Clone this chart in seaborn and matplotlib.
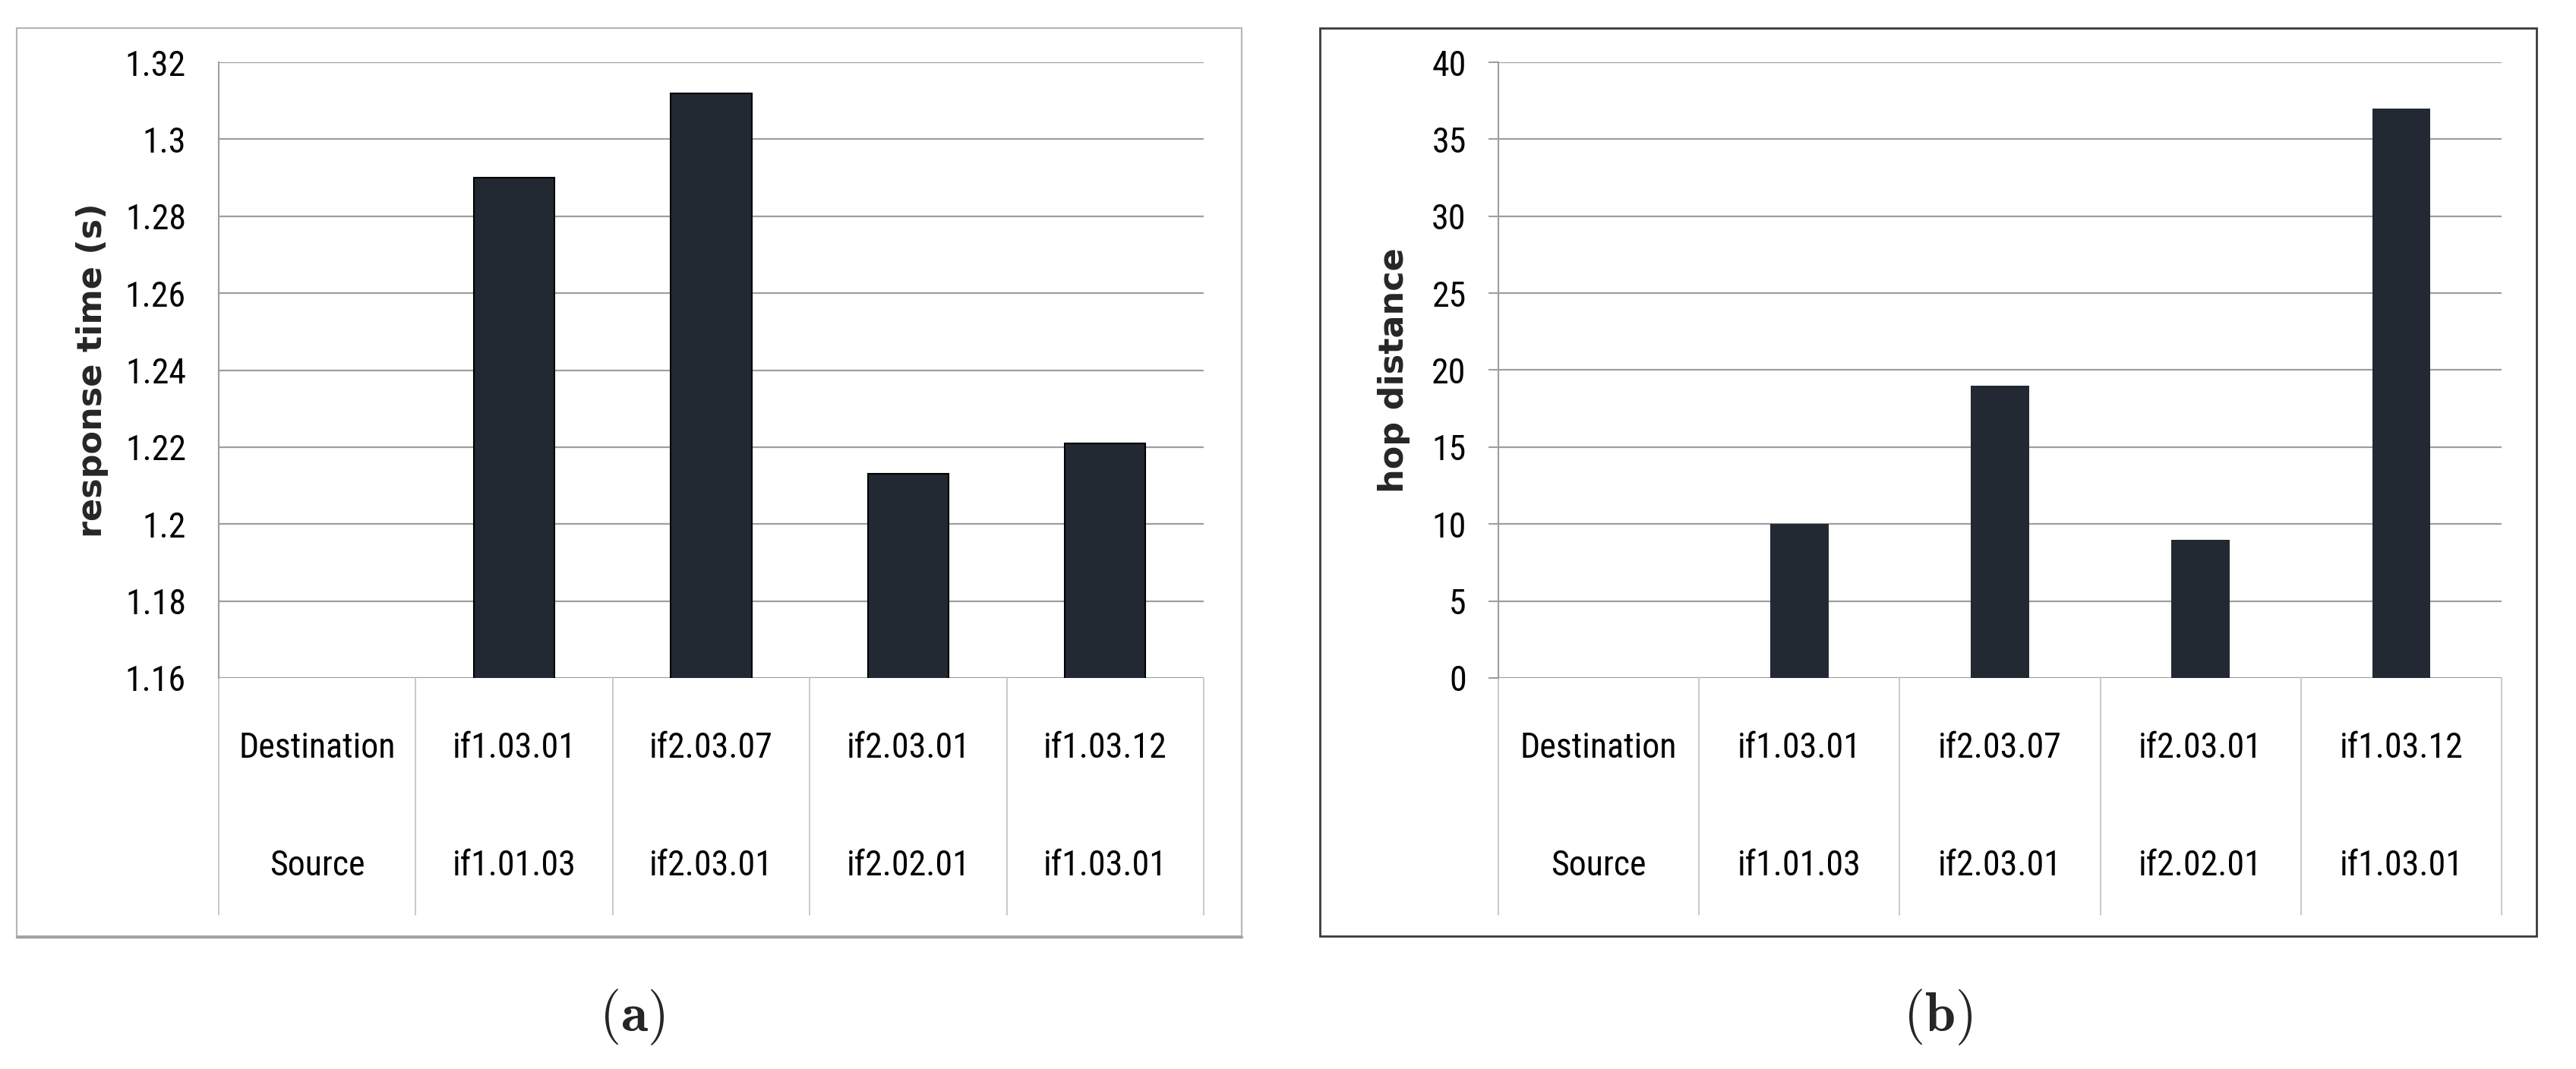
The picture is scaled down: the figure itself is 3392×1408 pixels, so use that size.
import numpy as np
import pandas as pd
import matplotlib
matplotlib.use("Agg")
import matplotlib.pyplot as plt
import matplotlib.font_manager as fm
import matplotlib.transforms as mtransforms
from matplotlib.patches import Rectangle
import seaborn as sns

# data
destination = ['Destination', 'if1.03.01', 'if2.03.07', 'if2.03.01', 'if1.03.12']
source = ['Source', 'if1.01.03', 'if2.03.01', 'if2.02.01', 'if1.03.01']
response_time = [np.nan, 1.29, 1.312, 1.213, 1.221]
hop_distance = [np.nan, 10, 19, 9, 37]

sns.set_theme(style="white")

# narrow font like the Excel original
installed = {f.name for f in fm.fontManager.ttflist}
narrow = 'DejaVu Sans'
for nama in ['Liberation Sans Narrow', 'Roboto Condensed', 'Open Sans Condensed', 'Liberation Sans']:
    if nama in installed:
        narrow = nama
        break
plt.rcParams['font.family'] = [narrow, 'DejaVu Sans']
plt.rcParams['mathtext.fontset'] = 'cm'

W, H = 3392, 1408
fig = plt.figure(figsize=(W / 100, H / 100), dpi=100)

bar_color = '#232933'
grid_color = '#9e9e9e'
table_color = '#c0c0c0'
tick_size = 33


def fx(px):
    return px / W


def fy(py):
    return 1 - py / H


def draw_panel(left, right, values, ylim, yticks, ylabel, bar_width, edge, ticks_out, label_x, tick_pad):
    ax = fig.add_axes([fx(left), fy(893), fx(right) - fx(left), fy(82) - fy(893)])
    df = pd.DataFrame({'key': destination, 'value': values})
    if edge:
        sns.barplot(data=df, x='key', y='value', order=destination, color=bar_color,
                    saturation=1, width=bar_width, edgecolor='black', linewidth=1.5, ax=ax)
    else:
        sns.barplot(data=df, x='key', y='value', order=destination, color=bar_color,
                    saturation=1, width=bar_width, linewidth=0, ax=ax)
    ax.set_ylim(ylim)
    ax.set_xlim(-0.5, len(destination) - 0.5)
    ax.set_yticks(yticks)
    ax.set_yticklabels([f"{t:g}" for t in yticks], fontsize=tick_size, color='black')
    ax.set_xticks([])
    ax.set_xlabel('')
    ax.yaxis.grid(True, color=grid_color, linewidth=1.6)
    ax.set_axisbelow(True)
    for s in ['top', 'right', 'bottom']:
        ax.spines[s].set_visible(False)
    ax.spines['left'].set_color(grid_color)
    ax.spines['left'].set_linewidth(1.5)
    if ticks_out:
        ax.tick_params(axis='y', length=9.5, width=1.5, color=grid_color, pad=tick_pad, left=True)
    else:
        ax.tick_params(axis='y', length=0, pad=tick_pad)

    ax.set_ylabel(ylabel, fontsize=32, fontweight='bold', family='DejaVu Sans')
    ax.yaxis.set_label_coords(label_x, 0.5)
    ax.yaxis.label.set_verticalalignment('center')

    # data table under the axis
    trans = mtransforms.blended_transform_factory(ax.transData, ax.transAxes)
    bottom_tab = -0.385
    for i in range(len(destination) + 1):
        ax.plot([i - 0.5, i - 0.5], [0, bottom_tab], transform=trans, color=table_color,
                linewidth=1.2, clip_on=False)
    for i in range(len(destination)):
        ax.text(i, -0.113, destination[i], transform=trans, ha='center', va='center',
                fontsize=tick_size, color='black')
        ax.text(i, -0.305, source[i], transform=trans, ha='center', va='center',
                fontsize=tick_size, color='black')
    return ax


ax1 = draw_panel(288, 1585, response_time, (1.16, 1.32), np.round(np.arange(1.16, 1.3201, 0.02), 2),
                 'response time (s)', 0.41, True, False, -0.128, 31)
ax2 = draw_panel(1973, 3294, hop_distance, (0, 40), np.arange(0, 41, 5),
                 'hop distance', 0.29, False, True, -0.104, 21)

# outer frames
fig.patches.append(Rectangle((fx(22), fy(1233)), fx(1635) - fx(22), fy(37) - fy(1233),
                             transform=fig.transFigure, fill=False, edgecolor='#b5b5b5', linewidth=1.5))
fig.add_artist(plt.Line2D([fx(22), fx(1635)], [fy(1234), fy(1234)], transform=fig.transFigure,
                          color='#a0a0a0', linewidth=2.5))
fig.patches.append(Rectangle((fx(1738), fy(1233)), fx(3340) - fx(1738), fy(37) - fy(1233),
                             transform=fig.transFigure, fill=False, edgecolor='#3a3a3a', linewidth=2))

# captions
fig.text(fx(832), fy(1340), r'$(\mathbf{a})$', ha='center', va='center', fontsize=52)
fig.text(fx(2552), fy(1340), r'$(\mathbf{b})$', ha='center', va='center', fontsize=52)

fig.savefig("out.png", dpi=100, facecolor='white')
